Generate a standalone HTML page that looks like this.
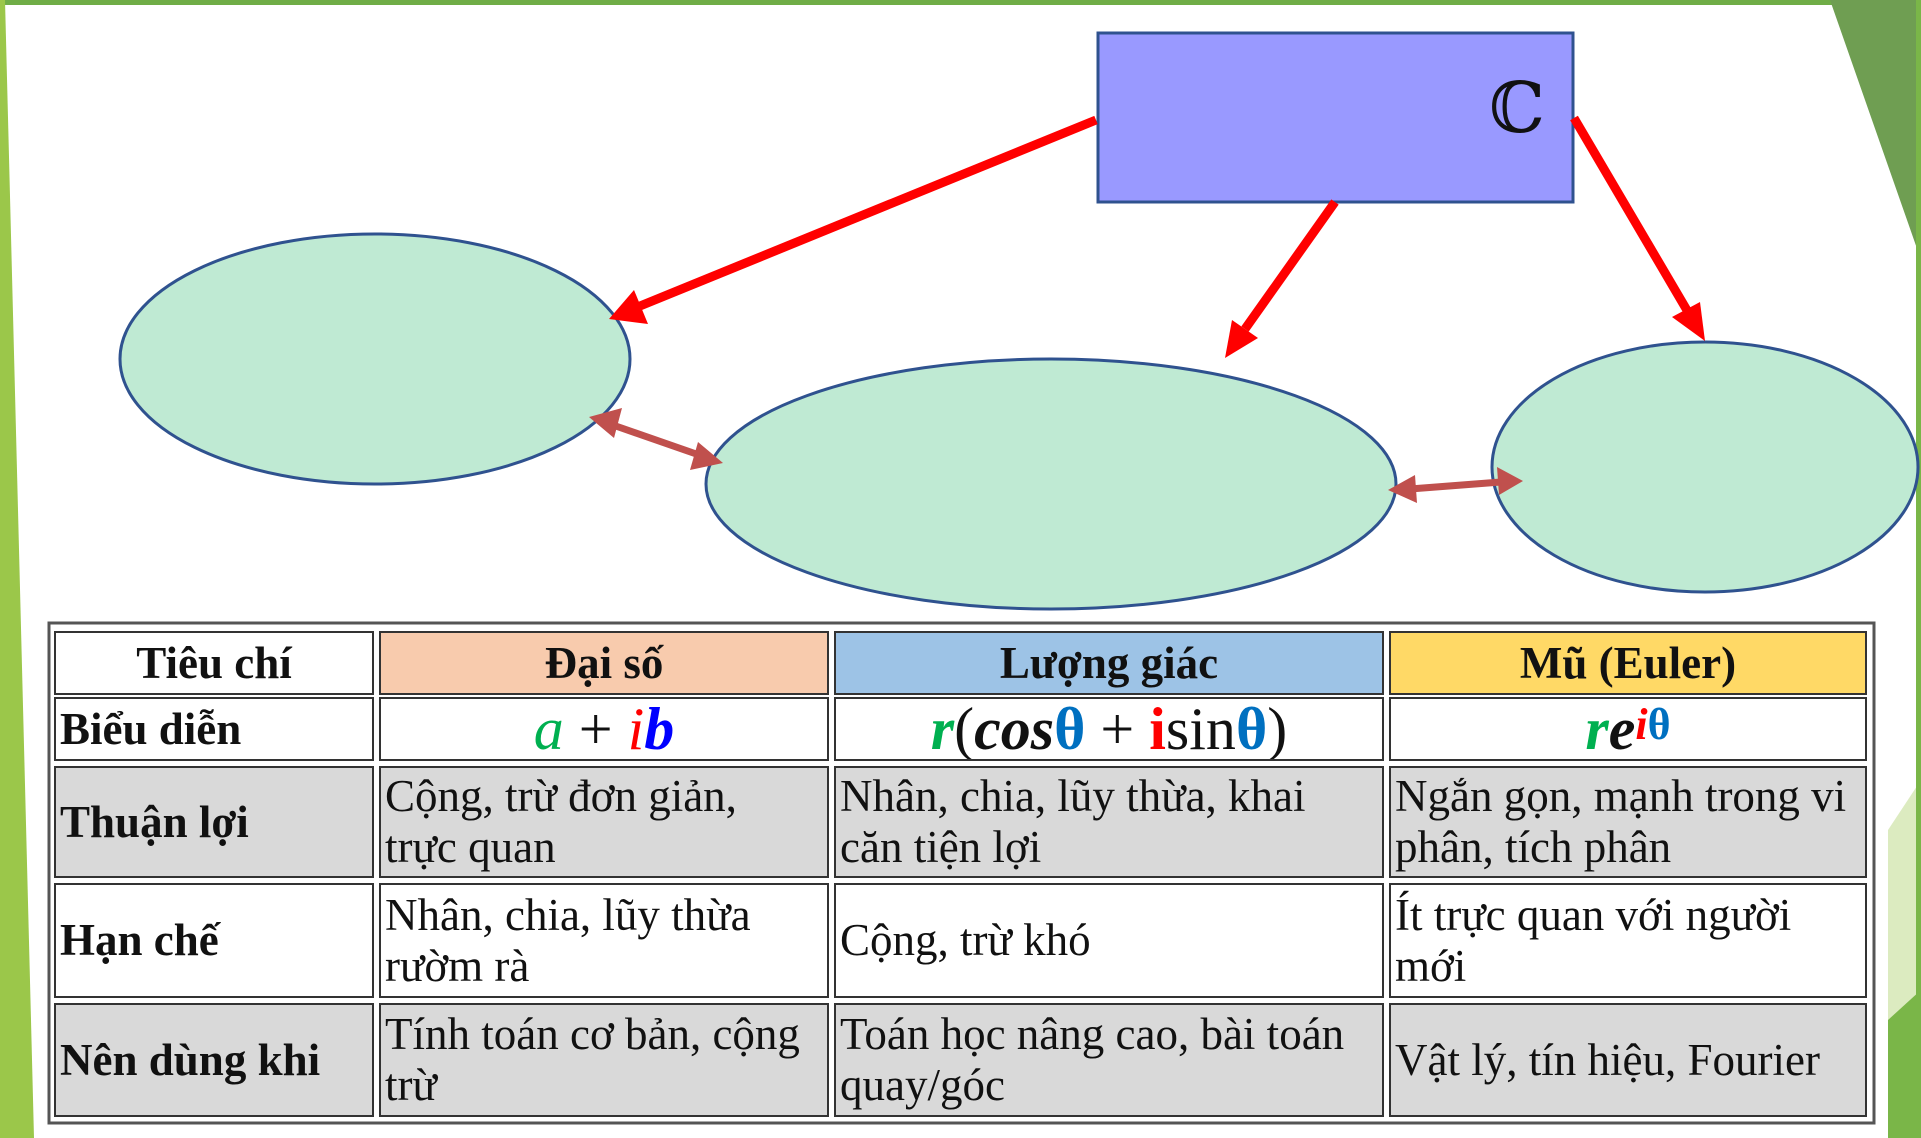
<!DOCTYPE html>
<html><head><meta charset="utf-8"><style>
html,body{margin:0;padding:0}
body{width:1921px;height:1138px;position:relative;overflow:hidden;background:#fff;font-family:"Liberation Serif",serif}
.c{position:absolute;box-sizing:border-box;border:2px solid #333;font-size:45px;line-height:51px;color:#111;padding:0 4px;display:flex;align-items:center;overflow:hidden;white-space:nowrap}
.h{font-weight:bold;justify-content:center}
.b{font-weight:bold}
.g{background:#d9d9d9}
.m{justify-content:center;font-size:60px;line-height:62px}
</style></head><body>
<svg width="1921" height="1138" style="position:absolute;left:0;top:0">
<rect x="0" y="0" width="1921" height="5" fill="#70ad47"/>
<polygon points="0,0 5,0 34,1138 0,1138" fill="#9bc74a"/>
<polygon points="1830,0 1921,0 1921,260" fill="#6f9e52"/>
<polygon points="1888,830 1921,780 1921,1138 1888,1138" fill="#dcebc0"/>
<polygon points="1888,1020 1921,990 1921,1138 1888,1138" fill="#7ab648"/>
<rect x="1916" y="0" width="5" height="1138" fill="#7ab648"/>
<rect x="1098" y="33" width="475" height="169" fill="#9999ff" stroke="#2f528f" stroke-width="3"/>
<text x="1517" y="132" font-family="DejaVu Serif,serif" font-size="70" fill="#111" text-anchor="middle">ℂ</text>
<g fill="#bfead3" stroke="#2f528f" stroke-width="3">
<ellipse cx="375" cy="359" rx="255" ry="125"/>
<ellipse cx="1051" cy="484" rx="345" ry="125"/>
<ellipse cx="1705" cy="467" rx="213" ry="125"/>
</g>
<g stroke="#ff0000" stroke-width="9" fill="#ff0000">
<line x1="1096" y1="120" x2="640" y2="306"/>
<line x1="1335" y1="202" x2="1245" y2="329"/>
<line x1="1574" y1="118" x2="1688" y2="312"/>
</g>
<g fill="#ff0000">
<polygon points="609,319 634,290 648,324"/>
<polygon points="1225,358 1232,320 1258,338"/>
<polygon points="1705,341 1672,317 1700,302"/>
</g>
<g stroke="#c0504d" stroke-width="7" fill="#c0504d">
<line x1="610" y1="424" x2="702" y2="456"/>
<line x1="1410" y1="489" x2="1501" y2="482"/>
</g>
<g fill="#c0504d">
<polygon points="589,417 622,408 614,438"/>
<polygon points="723,463 698,442 690,470"/>
<polygon points="1388,490 1415,475 1417,503"/>
<polygon points="1523,481 1497,467 1499,495"/>
</g>
<rect x="49" y="623" width="1825" height="500" fill="none" stroke="#555" stroke-width="3"/>
</svg>
<div class="c h" style="left:54px;top:631px;width:320px;height:64px">Tiêu chí</div>
<div class="c h" style="left:379px;top:631px;width:450px;height:64px;background:#f8cbad">Đại số</div>
<div class="c h" style="left:834px;top:631px;width:550px;height:64px;background:#9dc3e6">Lượng giác</div>
<div class="c h" style="left:1389px;top:631px;width:478px;height:64px;background:#ffd966">Mũ (Euler)</div>

<div class="c b" style="left:54px;top:697px;width:320px;height:64px">Biểu diễn</div>
<div class="c m" style="left:379px;top:697px;width:450px;height:64px"><i style="color:#00b050">a</i>&nbsp;+&nbsp;<i style="color:#ff0000">i</i><b><i style="color:#0000ff">b</i></b></div>
<div class="c m" style="left:834px;top:697px;width:550px;height:64px"><b><i style="color:#00b050">r</i></b>(<b><i>cos</i></b><b style="color:#0070c0">θ</b>&nbsp;+&nbsp;<b style="color:#ff0000">i</b>sin<b style="color:#0070c0">θ</b>)</div>
<div class="c m" style="left:1389px;top:697px;width:478px;height:64px"><b><i style="color:#00b050">r</i><i>e</i></b><sup style="font-size:44px;position:relative;top:-4px"><b><i style="color:#ff0000">i</i><span style="color:#0070c0">θ</span></b></sup></div>

<div class="c b g" style="left:54px;top:766px;width:320px;height:112px">Thuận lợi</div>
<div class="c g" style="left:379px;top:766px;width:450px;height:112px">Cộng, trừ đơn giản,<br>trực quan</div>
<div class="c g" style="left:834px;top:766px;width:550px;height:112px">Nhân, chia, lũy thừa, khai<br>căn tiện lợi</div>
<div class="c g" style="left:1389px;top:766px;width:478px;height:112px">Ngắn gọn, mạnh trong vi<br>phân, tích phân</div>

<div class="c b" style="left:54px;top:883px;width:320px;height:115px">Hạn chế</div>
<div class="c" style="left:379px;top:883px;width:450px;height:115px">Nhân, chia, lũy thừa<br>rườm rà</div>
<div class="c" style="left:834px;top:883px;width:550px;height:115px">Cộng, trừ khó</div>
<div class="c" style="left:1389px;top:883px;width:478px;height:115px">Ít trực quan với người<br>mới</div>

<div class="c b g" style="left:54px;top:1003px;width:320px;height:114px">Nên dùng khi</div>
<div class="c g" style="left:379px;top:1003px;width:450px;height:114px">Tính toán cơ bản, cộng<br>trừ</div>
<div class="c g" style="left:834px;top:1003px;width:550px;height:114px">Toán học nâng cao, bài toán<br>quay/góc</div>
<div class="c g" style="left:1389px;top:1003px;width:478px;height:114px">Vật lý, tín hiệu, Fourier</div>
</body></html>
